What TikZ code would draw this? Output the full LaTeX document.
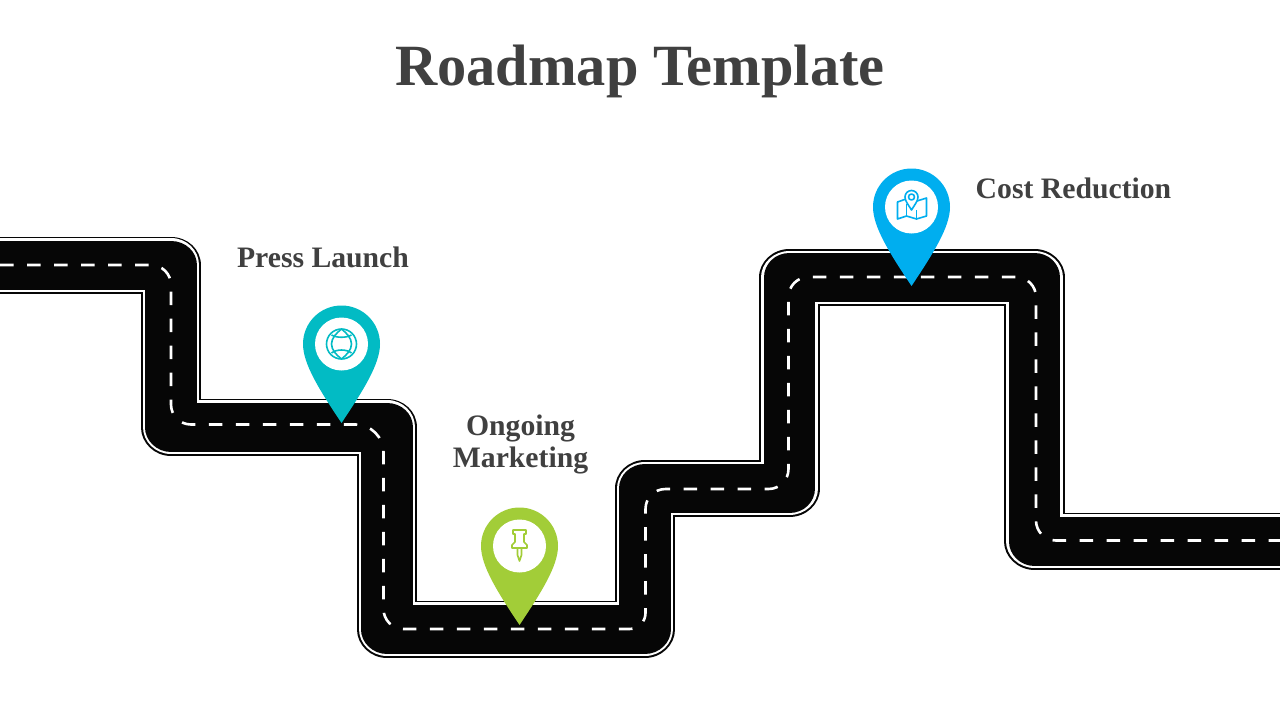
\documentclass[tikz,border=0pt]{standalone}
\usepackage{fontspec}
\setmainfont{Liberation Serif}
\begin{document}
\begin{tikzpicture}[x=1pt,y=-1pt,
  titletext/.style={font=\fontsize{58.4}{60}\selectfont\bfseries,text=ink,inner sep=0pt,anchor=base},
  labeltext/.style={font=\fontsize{29.7}{32}\selectfont\bfseries,text=ink,inner sep=0pt,anchor=center,align=center},
  roadouter/.style={draw=roadblack,line width=57pt,line join=round},
  roadwhite/.style={draw=white,line width=53.4pt,line join=round},
  roadinner/.style={draw=roadblack,line width=49pt,line join=round},
  lanemark/.style={draw=white,line width=2.6pt,dash pattern=on 13.5pt off 13.5pt},
  iconline/.style={line width=1.6pt,line join=round,fill=none},
  pinshape/.pic={
    \fill[pic actions] (-38.5,0) arc[start angle=180,end angle=360,radius=38.5] .. controls (38.5,20) and (22,46) .. (0,79) .. controls (-22,46) and (-38.5,20) .. cycle;
    \fill[white] (0,0) circle[radius=26.5];
  }]
\definecolor{ink}{HTML}{404040}
\definecolor{roadblack}{HTML}{060606}
\definecolor{pinteal}{HTML}{02BBC4}
\definecolor{pingreen}{HTML}{A2CD38}
\definecolor{pinblue}{HTML}{00AEEF}
\useasboundingbox (0,0) rectangle (1280,720);
\fill[white] (0,0) rectangle (1280,720);
\def\roadpath{(-40,265) -- (171,265) -- (171,427) -- (387,427) -- (387,629) -- (645,629) -- (645,488.5) -- (789.5,488.5) -- (789.5,277.5) -- (1034.5,277.5) -- (1034.5,541) -- (1320,541)}
\begin{scope}[transform canvas={xscale=1.06},x=0.943396pt]
\draw[roadouter] \roadpath;
\draw[roadwhite] \roadpath;
\draw[roadinner] \roadpath;
\end{scope}
\draw[lanemark,rounded corners=20pt] (-27,265) -- (171,265) -- (171,424.5) [rounded corners=28pt] -- (383.5,424.5) [rounded corners=20pt] -- (383.5,629) [rounded corners=16pt] -- (645.5,629) [rounded corners=20pt] -- (645.5,489) -- (788.5,489) -- (788.5,277) -- (1036,277) -- (1036,540.5) -- (1320,540.5);
\node[titletext] (title) at (640,85) {Roadmap Template};
\node[labeltext] (press) at (323,257.5) {Press Launch};
\node[labeltext] (ongoing) at (520.5,444) {Ongoing\\Marketing};
\node[labeltext] (cost) at (1073.5,188.5) {Cost Reduction};
% teal pin
\begin{scope}[shift={(341.5,344)}]
\pic[pinteal] {pinshape};
\draw[pinteal,iconline] (0,0) circle[radius=15];
\draw[pinteal,iconline] (-10,-9) .. controls (-5,-6) and (5,-6) .. (10,-9);
\draw[pinteal,iconline] (-10,9) .. controls (-5,5) and (5,5) .. (10,9);
\draw[pinteal,iconline] (0,-15) .. controls (-5,-11) and (-10,-6) .. (-10,0) .. controls (-10,6) and (-5,11) .. (0,15);
\draw[pinteal,iconline] (0,-15) .. controls (5,-11) and (10,-6) .. (10,0) .. controls (10,6) and (5,11) .. (0,15);
\end{scope}
% green pin
\begin{scope}[shift={(519.5,546)}]
\pic[pingreen] {pinshape};
\draw[pingreen,iconline] (-6.5,-16) -- (6.5,-16) -- (6.5,-12) -- (4.5,-12) -- (4.5,-4) -- (7.5,-1) -- (7.5,2) -- (-7.5,2) -- (-7.5,-1) -- (-4.5,-4) -- (-4.5,-12) -- (-6.5,-12) -- cycle;
\draw[pingreen,iconline] (-2,2) -- (-2,9) -- (0,15) -- (2,9) -- (2,2);
\end{scope}
% blue pin
\begin{scope}[shift={(911.5,207)}]
\pic[pinblue] {pinshape};
\draw[pinblue,iconline] (-5.5,-8) -- (-14,-5) -- (-14,12) -- (-5,9) -- (5,12) -- (15,9) -- (15,-9) -- (5.5,-6);
\draw[pinblue,iconline] (-5,-3) -- (-5,9);
\draw[pinblue,iconline] (5,3) -- (5,12);
\draw[pinblue,iconline,fill=white] (0,3) .. controls (-3,-2) and (-6.5,-6) .. (-6.5,-10) arc[start angle=180,end angle=360,radius=6.5] .. controls (6.5,-6) and (3,-2) .. cycle;
\draw[pinblue,iconline] (0,-10) circle[radius=3];
\end{scope}
\end{tikzpicture}
\end{document}
